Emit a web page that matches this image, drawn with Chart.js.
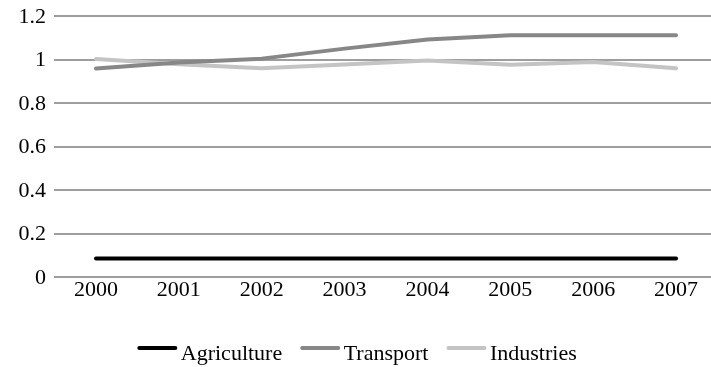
<!DOCTYPE html>
<html>
<head>
<meta charset="utf-8">
<script src="https://cdn.jsdelivr.net/npm/chart.js@4/dist/chart.umd.min.js"></script>
<style>
  html, body { margin: 0; padding: 0; background: #fff; overflow: hidden; }
  canvas { display: block; }
</style>
</head>
<body>
<canvas id="chart" width="711" height="367"></canvas>
<script>
// Years on the x axis
const years = ['2000', '2001', '2002', '2003', '2004', '2005', '2006', '2007'];

// Series values
const agriculture = [0.085, 0.085, 0.085, 0.085, 0.085, 0.085, 0.085, 0.085];
const transport   = [0.959, 0.986, 1.004, 1.05, 1.092, 1.111, 1.111, 1.111];
const industries  = [1.002, 0.978, 0.96, 0.977, 0.995, 0.976, 0.989, 0.96];

// Y axis tick labels (0 to 1.2, step 0.2)
const yTickLabels = ['0', '0.2', '0.4', '0.6', '0.8', '1', '1.2'];

const FONT = "'Liberation Serif', 'Times New Roman', serif";
const FONT_SIZE = 22;

function series(label, values, color) {
  return {
    label: label,
    data: years.map((y, i) => ({ x: Number(y), y: values[i] })),
    borderColor: color,
    backgroundColor: color,
    borderWidth: 4,
    pointRadius: 0,
    pointHoverRadius: 0,
    tension: 0,
    fill: false,
    borderCapStyle: 'round',
    borderJoinStyle: 'round'
  };
}

// Legend drawn as a short line sample followed closely by the series name
const LEGEND = { lineLen: 40, textGap: 3.5, itemGap: 18, lineY: 348, textY: 360, shift: 1.5 };
const lineLegend = {
  id: 'lineLegend',
  afterDraw(chart) {
    const ctx = chart.ctx;
    ctx.save();
    ctx.font = FONT_SIZE + 'px ' + FONT;
    const items = chart.data.datasets.map(ds => ({ ds, w: ctx.measureText(ds.label).width }));
    const total = items.reduce((s, it) => s + LEGEND.lineLen + LEGEND.textGap + it.w, 0)
                + LEGEND.itemGap * (items.length - 1);
    let x = (chart.width - total) / 2 + LEGEND.shift;
    items.forEach(it => {
      ctx.strokeStyle = it.ds.borderColor;
      ctx.lineWidth = 4;
      ctx.lineCap = 'round';
      ctx.beginPath();
      ctx.moveTo(x + 2, LEGEND.lineY);
      ctx.lineTo(x + LEGEND.lineLen - 2, LEGEND.lineY);
      ctx.stroke();
      x += LEGEND.lineLen + LEGEND.textGap;
      ctx.fillStyle = '#000';
      ctx.textBaseline = 'alphabetic';
      ctx.textAlign = 'left';
      ctx.fillText(it.ds.label, x, LEGEND.textY);
      x += it.w + LEGEND.itemGap;
    });
    ctx.restore();
  }
};

new Chart(document.getElementById('chart'), {
  type: 'line',
  data: {
    datasets: [
      series('Agriculture', agriculture, '#000000'),
      series('Transport', transport, '#878787'),
      series('Industries', industries, '#c4c4c4')
    ]
  },
  plugins: [lineLegend],
  options: {
    responsive: false,
    animation: false,
    devicePixelRatio: 1,
    layout: { padding: { top: 16, right: 0, left: 0, bottom: 63.6 } },
    plugins: {
      tooltip: { enabled: false },
      legend: { display: false }
    },
    scales: {
      x: {
        type: 'linear',
        min: 1999.493,
        max: 2007.422,
        grid: { display: false, drawTicks: false },
        border: { display: false },
        afterBuildTicks: (scale) => { scale.ticks = years.map(y => ({ value: Number(y) })); },
        afterFit: (scale) => { scale.paddingLeft = 0; scale.paddingRight = 0; },
        ticks: {
          font: { family: FONT, size: FONT_SIZE },
          color: '#000',
          padding: 0,
          maxRotation: 0,
          autoSkip: false,
          callback: (v, i) => years[i]
        }
      },
      y: {
        min: 0,
        max: 1.2,
        afterFit: (scale) => { scale.width = 54; scale.paddingTop = 0; scale.paddingBottom = 0; },
        ticks: {
          stepSize: 0.2,
          font: { family: FONT, size: FONT_SIZE },
          color: '#000',
          padding: 8,
          labelOffset: 1,
          callback: (v, i) => yTickLabels[i]
        },
        grid: { color: '#9e9e9e', lineWidth: 2, drawTicks: false },
        border: { display: false }
      }
    }
  }
});
</script>
</body>
</html>
